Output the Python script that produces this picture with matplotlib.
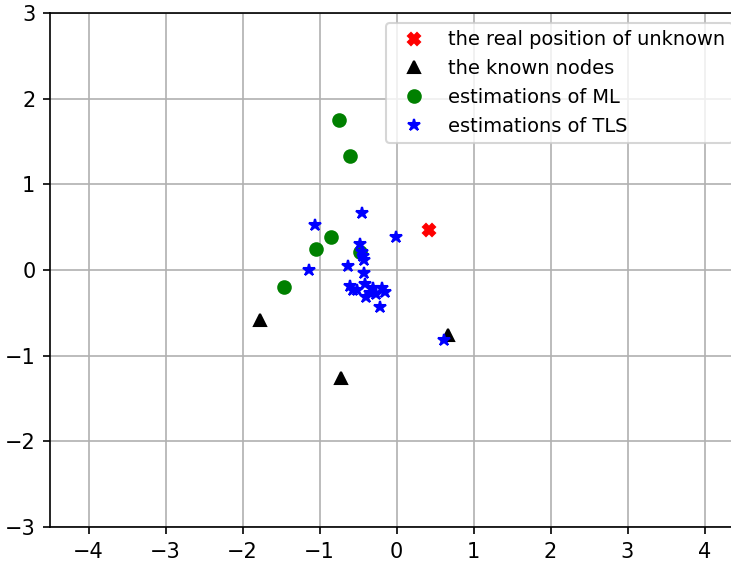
import numpy as np
import matplotlib
matplotlib.use("Agg")
import matplotlib.pyplot as plt

# true node position
real_x = [0.42]
real_y = [0.47]

# anchors with known positions
known_x = [-1.77, -0.72, 0.67]
known_y = [-0.58, -1.26, -0.76]

# ML estimates
ml_x = [-0.75, -0.60, -0.85, -1.04, -1.46, -0.47]
ml_y = [1.75, 1.33, 0.38, 0.25, -0.20, 0.21]

# TLS estimates
tls_x = [-0.45, -1.06, -0.01, -0.48, -0.45, -0.44, -0.42, -1.14, -0.63, -0.42,
         -0.60, -0.41, -0.51, -0.30, -0.19, -0.15, -0.39, -0.26, -0.22, 0.62,
         -0.56, -0.35]
tls_y = [0.66, 0.52, 0.39, 0.30, 0.21, 0.16, 0.12, 0.00, 0.05, -0.03,
         -0.19, -0.16, -0.23, -0.21, -0.21, -0.26, -0.32, -0.28, -0.43, -0.82,
         -0.23, -0.27]

dpi = 150
fig = plt.figure(figsize=(731 / dpi, 565 / dpi), dpi=dpi)
ax = fig.add_axes([50 / 731, 38 / 565, 693 / 731, 514 / 565])

ax.plot(real_x, real_y, "X", color="red", linestyle="none",
        label="the real position of unknown")
ax.plot(known_x, known_y, "^", color="black", linestyle="none",
        label="the known nodes")
ax.plot(ml_x, ml_y, "o", color="green", linestyle="none",
        label="estimations of ML")
ax.plot(tls_x, tls_y, "*", color="blue", linestyle="none",
        label="estimations of TLS")

ax.set_xlim(-4.5, 4.5)
ax.set_ylim(-3, 3)
ax.set_xticks(np.arange(-4, 5, 1))
ax.set_yticks(np.arange(-3, 4, 1))
ax.grid(True)
ax.legend(loc="upper right", fontsize=9.3)

fig.savefig("out.png", dpi=dpi)
